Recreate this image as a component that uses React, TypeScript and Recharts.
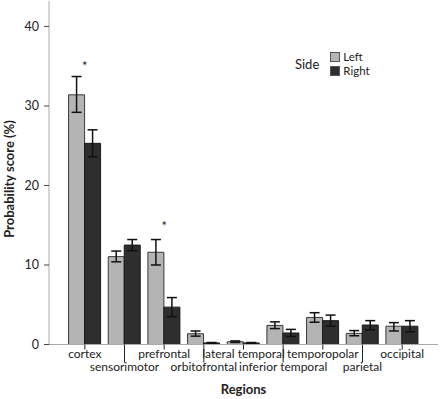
import { BarChart, Bar, XAxis, YAxis, ErrorBar, ReferenceDot } from "recharts";

const regions = [
  "cortex",
  "sensorimotor",
  "prefrontal",
  "orbitofrontal",
  "lateral temporal",
  "inferior temporal",
  "temporopolar",
  "parietal",
  "occipital",
];

// mean probability score (%) per side, with the lower / upper ends of the error bars
const leftValues = [31.4, 11.05, 11.6, 1.35, 0.35, 2.4, 3.4, 1.4, 2.3];
const leftLow = [29.2, 10.4, 10.0, 1.05, 0.25, 2.0, 2.8, 1.1, 1.7];
const leftHigh = [33.7, 11.75, 13.2, 1.7, 0.45, 2.85, 4.0, 1.75, 2.75];

const rightValues = [25.3, 12.5, 4.7, 0.2, 0.2, 1.45, 3.0, 2.45, 2.3];
const rightLow = [23.6, 11.8, 3.5, 0.15, 0.15, 1.0, 2.3, 1.85, 1.6];
const rightHigh = [27.0, 13.2, 5.9, 0.25, 0.25, 1.9, 3.7, 3.0, 3.0];

const yTicks = [0, 10, 20, 30, 40];

// significant differences marked with an asterisk
const starred = [
  { region: "cortex", y: 35.0 },
  { region: "prefrontal", y: 14.9 },
];

const data = regions.map((region, i) => ({
  region,
  left: leftValues[i],
  right: rightValues[i],
  leftErr: [leftValues[i] - leftLow[i], leftHigh[i] - leftValues[i]],
  rightErr: [rightValues[i] - rightLow[i], rightHigh[i] - rightValues[i]],
}));

const FONT = "Lato, 'Open Sans', sans-serif";
const TEXT = "#222";

function RegionTick(props: any) {
  const { x, y, payload, index } = props;
  const low = index % 2 === 1;
  return (
    <g>
      <line x1={x} x2={x} y1={y} y2={y + (low ? 18 : 5)} stroke="#222" />
      <text
        x={x}
        y={y + (low ? 26.5 : 13.5)}
        textAnchor="middle"
        fontSize={12}
        fill={TEXT}
        fontFamily={FONT}
      >
        {payload.value}
      </text>
    </g>
  );
}

function YTitle() {
  const cx = 8.5;
  const cy = 179;
  return (
    <text
      x={cx}
      y={cy}
      transform={`rotate(-90 ${cx} ${cy})`}
      textAnchor="middle"
      dominantBaseline="central"
      fontSize={13}
      fontWeight="bold"
      fill={TEXT}
      fontFamily={FONT}
    >
      Probability score (%)
    </text>
  );
}

function SideLegend() {
  const swatch = (color: string) => ({
    width: 8,
    height: 8,
    background: color,
    border: "1px solid #555",
    display: "inline-block",
    flex: "none",
  });
  const row = {
    display: "flex",
    alignItems: "center",
    gap: 3,
    height: 14,
    lineHeight: "14px",
  };
  return (
    <div
      style={{
        position: "absolute",
        left: 295,
        top: 50,
        fontFamily: FONT,
        color: TEXT,
        display: "flex",
        alignItems: "center",
      }}
    >
      <span style={{ fontSize: 13, marginRight: 11, lineHeight: "15px" }}>Side</span>
      <div style={{ fontSize: 11.5 }}>
        <div style={row}>
          <span style={swatch("#b4b4b4")} />
          <span>Left</span>
        </div>
        <div style={row}>
          <span style={swatch("#2e2e2e")} />
          <span>Right</span>
        </div>
      </div>
    </div>
  );
}

export default function App() {
  return (
    <div
      style={{
        position: "absolute",
        left: 0,
        top: 0,
        width: 440,
        height: 399,
        background: "#fff",
      }}
    >
      <BarChart
        width={440}
        height={399}
        data={data}
        margin={{ top: 1, right: 2, bottom: 0, left: 0 }}
        barCategoryGap="9%"
        barGap={0}
      >
        <XAxis
          dataKey="region"
          interval={0}
          tick={<RegionTick />}
          tickLine={false}
          tickSize={0}
          tickMargin={0}
          height={54.5}
          padding={{ left: 16, right: 16 }}
          stroke="#aaa"
          label={{
            value: "Regions",
            position: "insideBottom",
            offset: 0,
            dy: -5,
            fontSize: 13,
            fontWeight: "bold",
            fill: TEXT,
            fontFamily: FONT,
          }}
        />
        <YAxis
          width={49}
          domain={[0, 43.2]}
          ticks={yTicks}
          allowDataOverflow
          tickSize={5}
          tickMargin={5}
          stroke="#aaa"
          tick={{ fontSize: 12.5, fill: TEXT, fontFamily: FONT }}
          tickLine={{ stroke: "#444" }}
          label={<YTitle />}
        />
        <Bar
          dataKey="left"
          fill="#b4b4b4"
          stroke="#3a3a3a"
          strokeWidth={1}
          isAnimationActive={false}
        >
          <ErrorBar
            dataKey="leftErr"
            width={5}
            stroke="#111"
            strokeWidth={1.5}
            direction="y"
          />
        </Bar>
        <Bar
          dataKey="right"
          fill="#2e2e2e"
          stroke="#1a1a1a"
          strokeWidth={1}
          isAnimationActive={false}
        >
          <ErrorBar
            dataKey="rightErr"
            width={5}
            stroke="#111"
            strokeWidth={1.5}
            direction="y"
          />
        </Bar>
        {starred.map((s) => (
          <ReferenceDot
            key={s.region}
            x={s.region}
            y={s.y}
            r={0}
            label={{
              value: "*",
              position: "center",
              fontSize: 13,
              fill: TEXT,
              fontFamily: FONT,
            }}
          />
        ))}
      </BarChart>
      <SideLegend />
    </div>
  );
}
